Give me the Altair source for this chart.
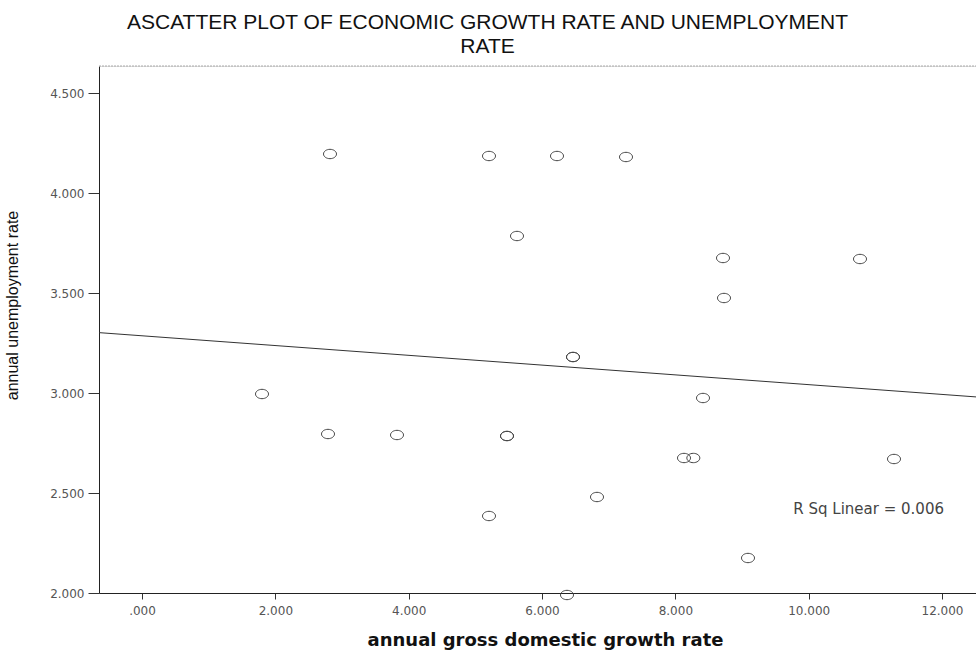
import altair as alt
import pandas as pd

# Data
gdp_growth = [2.82, 5.205, 6.225, 7.26, 5.625, 8.715, 10.77, 8.73, 1.80, 2.79,
              3.825, 5.475, 5.475, 5.205, 8.415, 8.13, 8.27, 11.28, 6.825, 9.09,
              6.375, 6.465, 6.465]
unemployment = [4.195, 4.185, 4.185, 4.18, 3.785, 3.675, 3.67, 3.475, 2.995, 2.795,
                2.79, 2.785, 2.785, 2.385, 2.975, 2.675, 2.675, 2.67, 2.48, 2.175,
                1.99, 3.18, 3.18]

x_ticks = [0, 2, 4, 6, 8, 10, 12]
y_ticks = [2.0, 2.5, 3.0, 3.5, 4.0, 4.5]
x_domain = [-0.645, 12.51]
y_domain = [2.0, 4.635]

annotation_text = ["R Sq Linear = 0.006"]
annotation_x = [9.77]
annotation_y = [2.42]

title_line1 = "ASCATTER PLOT OF ECONOMIC GROWTH RATE AND UNEMPLOYMENT"
title_line2 = "RATE"
x_title = "annual gross domestic growth rate"
y_title = "annual unemployment rate"

W, H = 877, 527

df = pd.DataFrame({"gdp": gdp_growth, "unemp": unemployment})
ann = pd.DataFrame({"gdp": annotation_x, "unemp": annotation_y, "label": annotation_text})

x_enc = alt.X(
    "gdp:Q",
    scale=alt.Scale(domain=x_domain, nice=False, zero=False),
    axis=alt.Axis(
        values=x_ticks,
        labelExpr="datum.value == 0 ? '.000' : format(datum.value, '.3f')",
        title=x_title,
        titleFont="DejaVu Sans",
        titleFontSize=18,
        titleFontWeight="bold",
        titleColor="#111",
        titleX=446,
        titleY=52,
        titleAlign="center",
        titleBaseline="alphabetic",
        tickSize=6,
        labelPadding=6,
        labelFont="DejaVu Sans",
        labelFontSize=12,
        labelColor="#555",
        tickColor="#333",
        domainColor="#222",
        grid=False,
    ),
)
y_enc = alt.Y(
    "unemp:Q",
    scale=alt.Scale(domain=y_domain, nice=False, zero=False),
    axis=alt.Axis(
        values=y_ticks,
        format=".3f",
        title=y_title,
        titleFont="Liberation Sans",
        titleFontSize=16,
        titleFontWeight="normal",
        titleColor="#111",
        titleAngle=270,
        titleX=-82,
        titleY=239,
        titleAlign="center",
        titleBaseline="alphabetic",
        tickSize=11,
        labelPadding=4,
        labelFont="DejaVu Sans",
        labelFontSize=12,
        labelColor="#555",
        tickColor="#333",
        domainColor="#222",
        grid=False,
    ),
)

ellipse = "M -1 0 A 1 0.72 0 1 0 1 0 A 1 0.72 0 1 0 -1 0 Z"

points = alt.Chart(df).mark_point(
    shape=ellipse, size=169, filled=False, stroke="#444", strokeWidth=1, opacity=1
).encode(x=x_enc, y=y_enc)

fit = alt.Chart(df).transform_regression(
    "gdp", "unemp", extent=x_domain
).mark_line(color="#333", strokeWidth=1).encode(x="gdp:Q", y="unemp:Q")

label = alt.Chart(ann).mark_text(
    align="left", baseline="middle", font="DejaVu Sans", fontSize=15, color="#444"
).encode(x="gdp:Q", y="unemp:Q", text="label:N")

top_border = alt.Chart(pd.DataFrame({"a": [0]})).mark_rule(
    color="#aaa", strokeWidth=1, strokeDash=[2, 1]
).encode(x=alt.value(0), x2=alt.value(W), y=alt.value(0))

chart = alt.layer(points, fit, label, top_border).properties(
    width=W,
    height=H,
    autosize=alt.AutoSizeParams(type="none"),
    padding={"left": 99, "top": 66, "right": 0, "bottom": 58},
    title=alt.TitleParams(
        text=[title_line1, title_line2],
        font="Liberation Sans",
        fontSize=21,
        fontWeight="normal",
        color="#111",
        anchor="middle",
        dx=-50,
        lineHeight=24,
        offset=9,
    ),
).configure_view(stroke=None).configure(background="white")

chart.save("out.html", embed_options={"renderer": "svg", "actions": False})
